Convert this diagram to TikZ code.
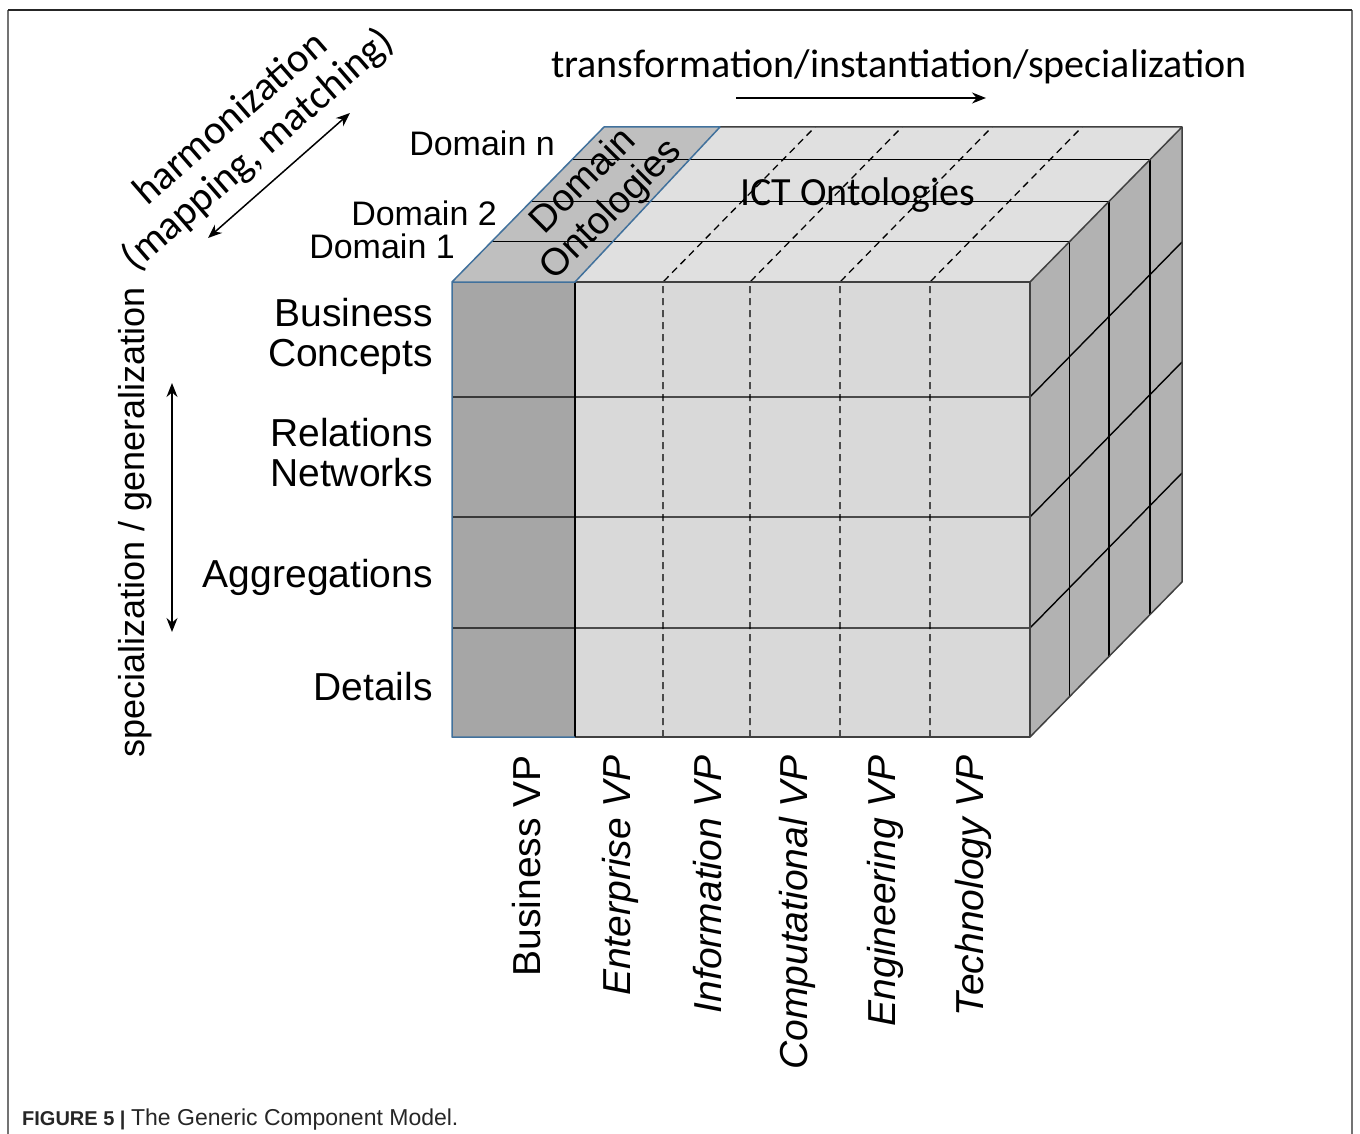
\documentclass[tikz,border=0pt]{standalone}
\usepackage{fontspec}
\setmainfont{Liberation Sans}
\newfontfamily\calibri{Carlito}
\usetikzlibrary{arrows.meta}
\colorlet{frontcol}{black!15}
\colorlet{bizcol}{black!35}
\colorlet{topcol}{black!12}
\colorlet{domcol}{black!25}
\colorlet{sidecol}{black!30}
\definecolor{rimcol}{RGB}{65,113,156}
\tikzstyle{cubeedge}=[draw=black!75,line width=1.5pt,line join=round]
\tikzstyle{gridln}=[black,line width=1.4pt]
\tikzstyle{griddash}=[black,line width=1.3pt,dash pattern=on 7pt off 5pt]
\tikzstyle{arr}=[-{Stealth[length=14pt,width=11pt]},line width=1.5pt]
\tikzstyle{darr}=[{Stealth[length=14pt,width=11pt]}-{Stealth[length=14pt,width=11pt]},
line width=1.5pt]
\tikzstyle{rowlab}=[anchor=east,align=right,inner sep=0pt,
font=\fontsize{39}{40}\selectfont]
\tikzstyle{vplab}=[rotate=90,anchor=east,inner sep=0pt,
font=\fontsize{39}{40}\selectfont]
\tikzstyle{domlab}=[anchor=east,inner sep=0pt,font=\fontsize{34}{36}\selectfont]

\begin{document}
\begin{tikzpicture}[x=1pt,y=-1pt]
  \useasboundingbox (0,0) rectangle (1360,1134);
  % frame
  \draw[black!55,line width=2pt] (8,10) -- (8,1134);
  \draw[black!55,line width=2pt] (1352,10) -- (1352,1134);
  \draw[black!85,line width=1.5pt] (8,10) -- (1352,10);
  % cube corners
  \coordinate (FTL) at (452,282);
  \coordinate (FTM) at (575,282);
  \coordinate (FTR) at (1030,282);
  \coordinate (FBL) at (452,737);
  \coordinate (FBM) at (575,737);
  \coordinate (FBR) at (1030,737);
  \coordinate (BTL) at (604,127);
  \coordinate (BTM) at (720,127);
  \coordinate (BTR) at (1182,127);
  \coordinate (BBR) at (1182,582);
  % faces
  \fill[frontcol] (FTM) rectangle (FBR);
  \fill[bizcol] (FTL) rectangle (FBM);
  \fill[topcol] (FTM) -- (BTM) -- (BTR) -- (FTR) -- cycle;
  \fill[domcol] (FTL) -- (BTL) -- (BTM) -- (FTM) -- cycle;
  \fill[sidecol] (FTR) -- (BTR) -- (BBR) -- (FBR) -- cycle;
  % viewpoints
  \foreach \x in {663,750,840,930} {
    \draw[griddash] (\x,737) -- (\x,282) -- ++(152,-155);
  }
  % levels
  \foreach \y in {397,517,628} {
    \draw[gridln] (452,\y) -- (1030,\y) -- ++(152,-155);
  }
  % domains
  \foreach \t in {0.26,0.52,0.79} {
    \draw[gridln] (452+152*\t,282-155*\t) -- (1030+152*\t,282-155*\t)
      -- (1030+152*\t,737-155*\t);
  }
  % outlines
  \draw[cubeedge] (FTM) -- (FTR) -- (FBR) -- (FBM);
  \draw[cubeedge] (BTM) -- (BTR) -- (BBR) -- (FBR);
  \draw[cubeedge] (FTR) -- (BTR);
  \draw[gridln] (FTM) -- (FBM);
  \draw[rimcol,line width=1.5pt,line join=round]
    (FBM) -- (FBL) -- (FTL) -- (BTL) -- (BTM) -- (FTM) -- (FTL);
  % face labels
  \node[font=\fontsize{38}{40}\selectfont,rotate=45,align=center,
    inner sep=0pt] (domont) at (598,196) {Domain\\Ontologies};
  \node[font=\calibri\fontsize{40}{42}\selectfont,inner sep=0pt]
    (ictont) at (858,195) {ICT Ontologies};
  % domain labels
  \node[domlab] (domn) at (555,143) {Domain n};
  \node[domlab] (dom2) at (497,213) {Domain 2};
  \node[domlab] (dom1) at (455,246) {Domain 1};
  % level labels
  \node[rowlab] (bizcon) at (433,336) {Business\\Concepts};
  \node[rowlab] (relnet) at (433,453) {Relations\\Networks};
  \node[rowlab] (aggr) at (433,577) {Aggregations};
  \node[rowlab] (details) at (433,687) {Details};
  % viewpoint labels
  \node[vplab] (bizvp) at (527,755) {Business VP};
  \node[vplab,font=\fontsize{39}{40}\selectfont\itshape]
    (entvp) at (620,755) {Enterprise VP};
  \node[vplab,font=\fontsize{39}{40}\selectfont\itshape]
    (infvp) at (708,755) {Information VP};
  \node[vplab,font=\fontsize{39}{40}\selectfont\itshape]
    (compvp) at (797,755) {Computational VP};
  \node[vplab,font=\fontsize{39}{40}\selectfont\itshape]
    (engvp) at (885,755) {Engineering VP};
  \node[vplab,font=\fontsize{39}{40}\selectfont\itshape]
    (techvp) at (973,755) {Technology VP};
  % axes
  \node[font=\calibri\fontsize{40}{41}\selectfont,inner sep=0pt]
    (transf) at (899,67) {transformation/instantiation/specialization};
  \coordinate (transfA) at (736,98);
  \coordinate (transfB) at (986,98);
  \draw[arr] (transfA) -- (transfB);
  \node[font=\fontsize{36}{38}\selectfont,rotate=90,inner sep=0pt]
    (specgen) at (135,522) {specialization / generalization};
  \coordinate (specA) at (172,383);
  \coordinate (specB) at (172,632);
  \draw[darr] (specA) -- (specB);
  \node[font=\calibri\fontsize{41}{42}\selectfont,rotate=41,align=center,
    inner sep=0pt] (harmon) at (245,135) {harmonization\\(mapping, matching)};
  \coordinate (harmA) at (350,113);
  \coordinate (harmB) at (208,238);
  \draw[darr] (harmA) -- (harmB);
  % caption
  \node[anchor=base west,inner sep=0pt,text=black!85] (caption) at (22,1125)
    {\fontsize{20}{22}\selectfont\textbf{FIGURE 5 |}
     \fontsize{23}{24}\selectfont The Generic Component Model.};
\end{tikzpicture}
\end{document}
